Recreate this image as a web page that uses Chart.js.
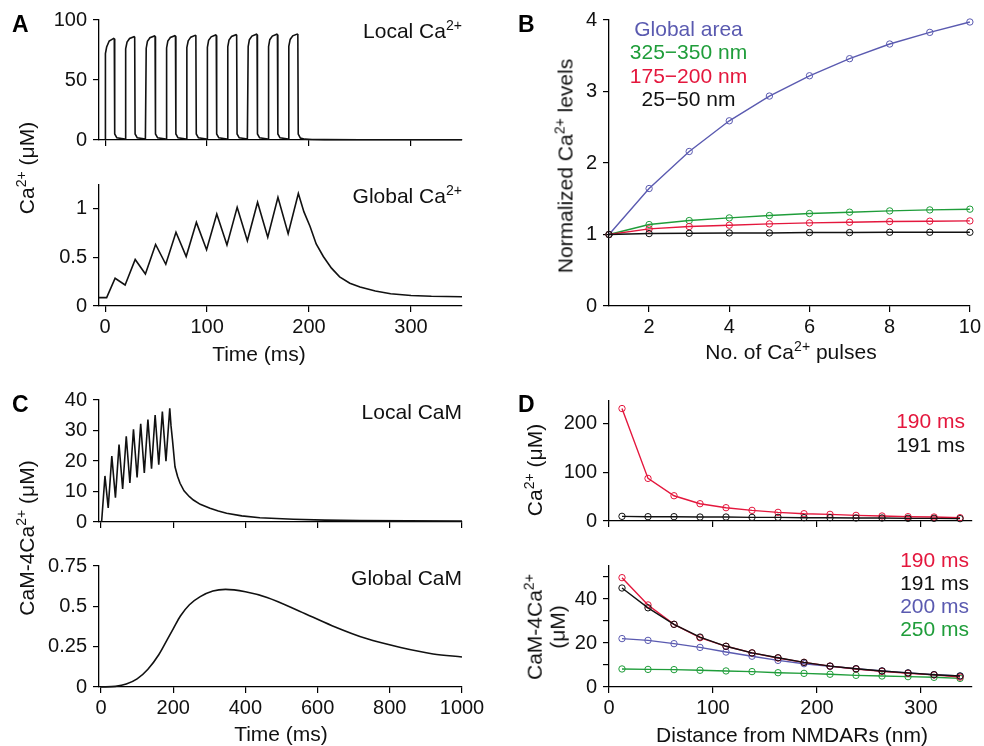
<!DOCTYPE html>
<html>
<head>
<meta charset="utf-8">
<script src="https://cdn.jsdelivr.net/npm/chart.js@4.4.1/dist/chart.umd.min.js"></script>
<style>
  body { margin: 0; background: #fff; }
  #page { position: relative; width: 984px; height: 746px; overflow: hidden; background: #fff; }
  canvas { position: absolute; left: 0; top: 0; }
  .t { position: absolute; font-family: 'Liberation Sans', Arial, Helvetica, sans-serif; font-size: 21px; line-height: 21px; white-space: nowrap; color: #111; }
  .t sup { font-size: 0.67em; vertical-align: 0.55em; line-height: 0; }
  .ann { text-align: right; }
  .letter { font-weight: bold; font-size: 23px; line-height: 23px; color: #000; }
  .cx { transform: translateX(-50%); }
  .rot { transform: translate(-50%, -50%) rotate(-90deg); text-align: center; }
</style>
</head>
<body>
<div id="page">
  <canvas id="cA1" width="984" height="746"></canvas>
  <canvas id="cA2" width="984" height="746"></canvas>
  <canvas id="cB" width="984" height="746"></canvas>
  <canvas id="cC1" width="984" height="746"></canvas>
  <canvas id="cC2" width="984" height="746"></canvas>
  <canvas id="cD1" width="984" height="746"></canvas>
  <canvas id="cD2" width="984" height="746"></canvas>

  <!-- panel letters -->
  <div class="t letter" style="left:12px; top:12.5px;">A</div>
  <div class="t letter" style="left:518px; top:12.5px;">B</div>
  <div class="t letter" style="left:12px; top:392.5px;">C</div>
  <div class="t letter" style="left:518px; top:392.5px;">D</div>

  <!-- in-plot annotations -->
  <div class="t ann" style="right:522px; top:20.2px;">Local Ca<sup>2+</sup></div>
  <div class="t ann" style="right:522px; top:185.2px;">Global Ca<sup>2+</sup></div>
  <div class="t ann" style="right:522px; top:400.5px;">Local CaM</div>
  <div class="t ann" style="right:522px; top:567.2px;">Global CaM</div>

  <div class="t cx" style="left:688.5px; top:17.1px; line-height:23.2px; text-align:center;">
    <div style="color:#5a5ab0;">Global area</div>
    <div style="color:#1f9d3a;">325&minus;350 nm</div>
    <div style="color:#e4173d;">175&minus;200 nm</div>
    <div style="color:#111;">25&minus;50 nm</div>
  </div>

  <div class="t ann" style="right:19px; top:409.4px; line-height:23.4px;">
    <div style="color:#e4173d;">190 ms</div>
    <div style="color:#111;">191 ms</div>
  </div>
  <div class="t ann" style="right:15px; top:547.8px; line-height:23.1px;">
    <div style="color:#e4173d;">190 ms</div>
    <div style="color:#111;">191 ms</div>
    <div style="color:#5a5ab0;">200 ms</div>
    <div style="color:#1f9d3a;">250 ms</div>
  </div>

  <!-- axis titles -->
  <div class="t cx" style="left:259px; top:342.8px;">Time (ms)</div>
  <div class="t cx" style="left:281px; top:722.8px;">Time (ms)</div>
  <div class="t cx" style="left:791px; top:340.9px;">No. of Ca<sup>2+</sup> pulses</div>
  <div class="t cx" style="left:792px; top:724.2px;">Distance from NMDARs (nm)</div>

  <div class="t rot" style="left:25.7px; top:168px;">Ca<sup>2+</sup> (&mu;M)</div>
  <div class="t rot" style="left:25.7px; top:538px;">CaM-4Ca<sup>2+</sup> (&mu;M)</div>
  <div class="t rot" style="left:564.7px; top:166px;">Normalized Ca<sup>2+</sup> levels</div>
  <div class="t rot" style="left:534.4px; top:470px;">Ca<sup>2+</sup> (&mu;M)</div>
  <div class="t rot" style="left:546.1px; top:627px; line-height:23.3px;">CaM-4Ca<sup>2+</sup><br>(&mu;M)</div>
</div>

<script>
// ---- Panel A: local Ca2+ (pulse train) ----
var timeLocalCa = [
  0, 0.3, 1.5, 4, 8.4, 9, 9.4, 11.5, 19.5,
  20, 20.3, 21.5, 24, 28.4, 29, 29.4, 31.5, 39.5,
  40, 40.3, 41.5, 44, 48.4, 49, 49.4, 51.5, 59.5,
  60, 60.3, 61.5, 64, 68.4, 69, 69.4, 71.5, 79.5,
  80, 80.3, 81.5, 84, 88.4, 89, 89.4, 91.5, 99.5,
  100, 100.3, 101.5, 104, 108.4, 109, 109.4, 111.5, 119.5,
  120, 120.3, 121.5, 124, 128.4, 129, 129.4, 131.5, 139.5,
  140, 140.3, 141.5, 144, 148.4, 149, 149.4, 151.5, 159.5,
  160, 160.3, 161.5, 164, 168.4, 169, 169.4, 171.5, 179.5,
  180, 180.3, 181.5, 184, 188.4, 189, 189.4, 191.5, 196, 203, 215, 250, 350
];
var localCa = [
  0.9, 72, 77.5, 82.5, 84.7, 84.3, 5, 1.8, 0.9,
  0.9, 76, 81.6, 84.6, 86.1, 85.7, 5, 1.8, 0.9,
  0.9, 76.5, 82.2, 85.2, 86.7, 86.3, 5, 1.8, 0.9,
  0.9, 76.7, 82.4, 85.4, 86.9, 86.5, 5, 1.8, 0.9,
  0.9, 77, 82.7, 85.7, 87.2, 86.8, 5, 1.8, 0.9,
  0.9, 77.3, 83, 86, 87.5, 87.1, 5, 1.8, 0.9,
  0.9, 77.6, 83.3, 86.3, 87.8, 87.4, 5, 1.8, 0.9,
  0.9, 77.9, 83.6, 86.6, 88.1, 87.7, 5, 1.8, 0.9,
  0.9, 77.9, 83.6, 86.6, 88.1, 87.7, 5, 1.8, 0.9,
  0.9, 78, 83.8, 86.8, 88.3, 87.9, 5, 1.6, 0.7, 0.4, 0.3, 0.25, 0.2
];

// ---- Panel A: global Ca2+ ----
var timeGlobalCa = [-6, 1.5, 9.8, 19.6, 29.5, 39.5, 49.5, 59.5, 69.5, 79.5, 89.5, 99.5, 109.5, 119.5,
  129.5, 139.5, 149.5, 159.5, 169.5, 179.5, 189.5, 195, 201, 207, 214, 222, 230, 240, 250, 265, 280, 300, 320, 350];
var globalCa = [0.086, 0.086, 0.286, 0.217, 0.48, 0.33, 0.634, 0.43, 0.76, 0.51, 0.862, 0.58, 0.948, 0.628,
  1.017, 0.672, 1.069, 0.71, 1.12, 0.745, 1.16, 0.97, 0.82, 0.64, 0.51, 0.39, 0.30, 0.235, 0.195, 0.155, 0.127, 0.108, 0.1, 0.095];

// ---- Panel B: normalized Ca2+ vs pulse number ----
var pulses = [1, 2, 3, 4, 5, 6, 7, 8, 9, 10];
var normGlobal = [1, 1.643, 2.161, 2.59, 2.936, 3.22, 3.459, 3.664, 3.827, 3.972];
var norm325 = [1, 1.139, 1.195, 1.232, 1.265, 1.293, 1.312, 1.33, 1.344, 1.354];
var norm175 = [1, 1.078, 1.111, 1.13, 1.148, 1.162, 1.171, 1.181, 1.186, 1.19];
var norm25 = [1, 1.013, 1.017, 1.022, 1.022, 1.027, 1.027, 1.031, 1.031, 1.031];

// ---- Panel C: local CaM-4Ca2+ ----
var timeLocalCaM = [0, 2, 11, 20, 30, 40, 50, 60, 70, 80, 90, 100, 110, 120, 130, 140, 150, 160, 170, 180,
  190.5, 194, 198, 205, 212, 219, 230, 245, 256, 275, 302, 325, 348, 390, 440, 533, 620, 717, 850, 1000];
var localCaM = [0, 0.5, 15.1, 4.6, 21.6, 8.0, 25.4, 10.8, 28.1, 12.8, 30.4, 14.6, 32.2, 16.1, 33.6, 17.5, 35.1, 18.8, 36.2, 19.9,
  37.3, 31.5, 26.9, 18.1, 15, 12.7, 10.2, 8.3, 7.2, 5.8, 4.5, 3.6, 2.85, 2.0, 1.4, 0.88, 0.6, 0.44, 0.36, 0.33];

// ---- Panel C: global CaM-4Ca2+ ----
var timeGlobalCaM = [0, 40, 70, 100, 130, 160, 185, 200, 220, 245, 275, 310, 345, 400, 460, 550, 640, 735, 830, 920, 1000];
var globalCaM = [0, 0.004, 0.018, 0.05, 0.11, 0.20, 0.30, 0.36, 0.44, 0.51, 0.56, 0.595, 0.605, 0.59, 0.555, 0.47, 0.38, 0.30, 0.245, 0.205, 0.186];

// ---- Panel D: profiles vs distance ----
var distance = [12.5, 37.5, 62.5, 87.5, 112.5, 137.5, 162.5, 187.5, 212.5, 237.5, 262.5, 287.5, 312.5, 337.5];
var ca190 = [231.5, 87.7, 52, 35.6, 27.4, 21.9, 17.8, 15, 13.7, 11.6, 10.3, 8.9, 8.2, 6.8];
var ca191 = [9.6, 8.9, 8.9, 8.2, 8.2, 7.5, 7.5, 6.8, 6.8, 6.2, 6.2, 5.5, 5.5, 4.8];
var cam190 = [49.7, 37.3, 28.5, 22.4, 18.5, 15.5, 13.2, 11.2, 9.5, 8.2, 7.1, 6.2, 5.5, 4.5];
var cam191 = [45, 36, 28.5, 22.7, 18.5, 15.5, 13.3, 11.2, 9.5, 8.3, 7.3, 6.4, 5.6, 5.0];
var cam200 = [22, 21.2, 19.7, 18, 15.9, 14, 12.1, 10.6, 9.4, 8.3, 7.3, 6.4, 5.6, 5.0];
var cam250 = [8.2, 8.0, 7.9, 7.6, 7.3, 7.0, 6.5, 6.2, 5.8, 5.3, 5.0, 4.7, 4.4, 3.9];

// tick positions and labels
var ticksTimeA = [0, 100, 200, 300];
var labelsTimeA = ['0', '100', '200', '300'];
var ticksTimeC = [0, 200, 400, 600, 800, 1000];
var labelsTimeC = ['0', '200', '400', '600', '800', '1000'];
var ticksDist = [0, 100, 200, 300];
var labelsDist = ['0', '100', '200', '300'];
var ticksPulse = [2, 4, 6, 8, 10];
var labelsPulse = ['2', '4', '6', '8', '10'];

var BLUE = '#5a5ab0', GREEN = '#1f9d3a', RED = '#e4173d', BLACK = '#111';
var FONT = "'Liberation Sans', Arial, Helvetica, sans-serif";
var Y_W = 60, X_H = 40;

function blank(arr) { return arr.map(function() { return ''; }); }

// one axis: black line, outward tick marks, no grid
function axis(min, max, tickVals, tickText, isY) {
  return {
    type: 'linear', min: min, max: max,
    afterBuildTicks: function(s) { s.ticks = tickVals.map(function(v) { return { value: v }; }); },
    afterFit: function(s) { if (isY) s.width = Y_W; else s.height = X_H; },
    grid: { drawOnChartArea: false, drawTicks: true, tickLength: 6, color: '#000', lineWidth: 1.2 },
    border: { display: true, color: '#000', width: 1.3 },
    ticks: {
      autoSkip: false, maxRotation: 0, minRotation: 0,
      padding: isY ? 6 : 3, color: '#111',
      font: { family: FONT, size: 20 },
      callback: function(v, i) { return tickText[i]; }
    }
  };
}

function series(xs, ys, color, width, withPoints, smooth) {
  return {
    data: xs.map(function(x, i) { return { x: x, y: ys[i] }; }),
    borderColor: color, borderWidth: width,
    tension: 0, cubicInterpolationMode: smooth ? 'monotone' : 'default',
    pointRadius: withPoints ? 3.2 : 0,
    pointBorderColor: color, pointBackgroundColor: 'rgba(255,255,255,0)', pointBorderWidth: 1,
    fill: false, clip: false
  };
}

// every canvas covers the page; padding puts the plot area where it belongs
function makeChart(id, area, xAxis, yAxis, datasets) {
  var ctx = document.getElementById(id).getContext('2d');
  return new Chart(ctx, {
    type: 'line',
    data: { datasets: datasets },
    options: {
      responsive: false, animation: false, events: [],
      layout: {
        autoPadding: false,
        padding: { left: area.left - Y_W, top: area.top, right: 984 - area.right, bottom: 746 - area.bottom - X_H }
      },
      plugins: { legend: { display: false }, tooltip: { enabled: false } },
      scales: { x: xAxis, y: yAxis }
    }
  });
}

makeChart('cA1', { left: 99, top: 20, right: 462, bottom: 140 },
  axis(-6, 350, ticksTimeA, blank(ticksTimeA), false),
  axis(0, 100, [0, 50, 100], ['0', '50', '100'], true),
  [series(timeLocalCa, localCa, BLACK, 1.6)]);

makeChart('cA2', { left: 99, top: 185, right: 462, bottom: 306 },
  axis(-6, 350, ticksTimeA, labelsTimeA, false),
  axis(0, 1.247, [0, 0.5, 1], ['0', '0.5', '1'], true),
  [series(timeGlobalCa, globalCa, BLACK, 1.6)]);

makeChart('cB', { left: 609, top: 20, right: 972, bottom: 306 },
  axis(1, 10, ticksPulse, labelsPulse, false),
  axis(0, 4, [0, 1, 2, 3, 4], ['0', '1', '2', '3', '4'], true),
  [series(pulses, norm25, BLACK, 1.4, true),
   series(pulses, norm175, RED, 1.4, true),
   series(pulses, norm325, GREEN, 1.4, true),
   series(pulses, normGlobal, BLUE, 1.4, true)]);

makeChart('cC1', { left: 99, top: 400, right: 462, bottom: 522 },
  axis(-5.5, 1000, ticksTimeC, blank(ticksTimeC), false),
  axis(0, 40, [0, 10, 20, 30, 40], ['0', '10', '20', '30', '40'], true),
  [series(timeLocalCaM, localCaM, BLACK, 1.6)]);

makeChart('cC2', { left: 99, top: 566, right: 462, bottom: 687 },
  axis(-5.5, 1000, ticksTimeC, labelsTimeC, false),
  axis(0, 0.75, [0, 0.25, 0.5, 0.75], ['0', '0.25', '0.5', '0.75'], true),
  [series(timeGlobalCaM, globalCaM, BLACK, 1.6, false, true)]);

makeChart('cD1', { left: 609, top: 401, right: 972, bottom: 521 },
  axis(0, 349, ticksDist, blank(ticksDist), false),
  axis(0, 247, [0, 100, 200], ['0', '100', '200'], true),
  [series(distance, ca191, BLACK, 1.4, true),
   series(distance, ca190, RED, 1.4, true)]);

makeChart('cD2', { left: 609, top: 566, right: 972, bottom: 687 },
  axis(0, 349, ticksDist, labelsDist, false),
  axis(0, 55, [0, 10, 20, 30, 40, 50], ['0', '', '20', '', '40', ''], true),
  [series(distance, cam191, BLACK, 1.4, true),
   series(distance, cam190, RED, 1.4, true),
   series(distance, cam200, BLUE, 1.4, true),
   series(distance, cam250, GREEN, 1.4, true)]);
</script>
</body>
</html>
